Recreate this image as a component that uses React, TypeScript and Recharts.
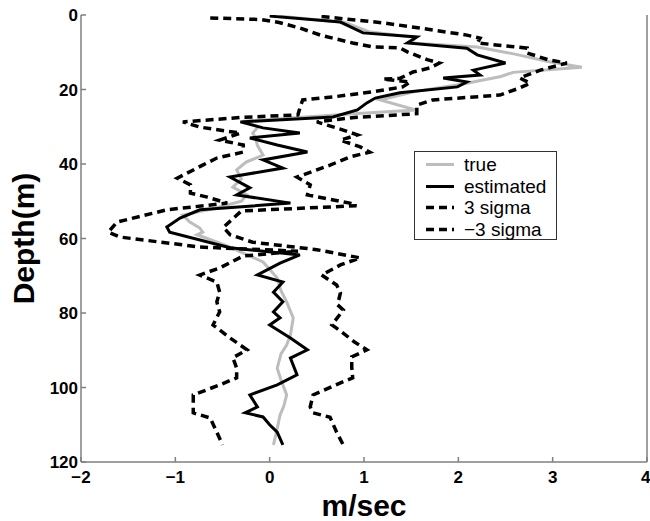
import { LineChart, Line, XAxis, YAxis, Legend, Label } from 'recharts';

const FONT = '"Liberation Sans", Arial, Helvetica, sans-serif';
const AXIS_GRAY = '#7f7f7f';

const speedTicks = [-2, -1, 0, 1, 2, 3, 4];
const depthTicks = [0, 20, 40, 60, 80, 100, 120];

// true profile
const trueDepth = [0.3, 2, 4.5, 6, 7.5, 8.6, 10.5, 12.5, 14, 15.4, 16.5, 18.5, 20.5, 22.8, 25.5, 26.6, 28.5, 30, 31.7, 33, 35, 37.6, 39.5, 41.6, 44, 46.2, 48.3, 50, 52, 53.7, 55.5, 57.2, 58.3, 59, 62, 66.3, 70.6, 74, 77, 81.3, 85.9, 88.6, 91, 94.8, 98, 102, 105, 107.4, 111, 115.4];
const trueSpeed = [0.1, 0.8, 1.05, 1.55, 1.5, 2.2, 2.6, 2.95, 3.31, 2.58, 2.45, 2.05, 1.55, 1.17, 1.55, 0.85, -0.28, -0.12, -0.18, -0.15, -0.13, -0.07, -0.25, -0.35, -0.3, -0.39, -0.24, -0.3, -0.6, -0.92, -0.85, -0.74, -0.71, -0.77, -0.45, -0.07, 0.08, 0.12, 0.18, 0.25, 0.22, 0.18, 0.12, 0.08, 0.12, 0.18, 0.15, 0.11, 0.08, 0.04];

// estimated profile
const estDepth = [0.3, 1.9, 4.8, 5.9, 7.5, 8.9, 10.7, 12.9, 14.8, 16.1, 16.9, 18, 19.3, 20.9, 22.3, 23.6, 25.5, 27.4, 28.7, 30.3, 31.7, 33, 34.9, 36.8, 38.9, 41.1, 43.5, 46.4, 48.3, 50.5, 52.3, 54.5, 56.9, 58.3, 62.5, 64.4, 66.6, 69.8, 71.7, 74.4, 77, 79.7, 81.3, 83.2, 86.7, 89.9, 92.1, 96.6, 99.3, 102, 105.2, 106.8, 107.9, 110, 112, 115.4];
const estSpeed = [0.0, 0.75, 0.99, 1.56, 1.46, 2.09, 2.2, 2.5, 2.16, 2.23, 1.84, 2.09, 1.99, 1.38, 1.12, 1.03, 0.93, 0.67, -0.31, -0.07, 0.32, -0.21, 0.08, 0.4, -0.07, 0.14, -0.42, -0.21, -0.35, 0.22, -0.74, -0.95, -1.09, -1.06, -0.42, 0.32, 0.11, -0.13, 0.14, 0.04, 0.14, 0.04, 0.11, 0.0, 0.22, 0.4, 0.22, 0.29, 0.08, -0.21, -0.13, -0.26, -0.07, 0.0, 0.08, 0.14];

// +3 sigma bound
const upperDepth = [0.4, 2.1, 3.5, 5.4, 6.2, 7.5, 8.9, 10.2, 12, 12.9, 14.8, 16.9, 18.3, 19.6, 21.5, 22.8, 24.2, 26.5, 27.5, 28.7, 30.9, 32.2, 33.6, 35.4, 36.8, 38.1, 40.3, 43.5, 45.6, 48.3, 50.5, 51.2, 52.6, 57, 59, 61, 63, 65.2, 67.1, 69.8, 72.5, 74.6, 77.8, 79.2, 83.2, 85, 87.8, 89.9, 91.8, 94.5, 97.4, 99.3, 102, 105.2, 106.8, 108, 112, 115.4];
const upperSpeed = [0.55, 1.2, 1.59, 2.09, 2.23, 2.2, 2.73, 2.73, 2.95, 3.15, 2.87, 2.65, 2.76, 2.65, 2.44, 1.73, 1.56, 1.56, 0.9, 0.5, 0.78, 0.93, 0.75, 0.96, 1.06, 0.85, 0.64, 0.29, 0.43, 0.4, 0.85, 0.92, -0.3, -0.49, -0.42, -0.18, 0.5, 0.96, 0.75, 0.55, 0.71, 0.75, 0.72, 0.78, 0.66, 0.76, 0.9, 1.03, 0.87, 0.87, 0.88, 0.7, 0.46, 0.43, 0.46, 0.64, 0.71, 0.78];

// -3 sigma bound
const lowerDepth = [0.8, 1.2, 2, 3.5, 5.5, 7.5, 8.6, 8.8, 9.9, 12, 12.9, 14.2, 15.3, 17, 17.2, 18, 19.3, 20.6, 22, 22.8, 25, 26.8, 27.5, 28.7, 30.1, 31.7, 33.6, 34.9, 36.8, 38.4, 40.3, 43.8, 45.6, 47.8, 48.9, 50.5, 52.3, 55.6, 58.3, 59.6, 62.3, 63.4, 64.7, 67.9, 69.8, 71.7, 74.4, 77, 79.7, 83.2, 86.7, 89.9, 92, 94.8, 97.4, 99.3, 102, 105.2, 106.8, 108.2, 112, 115.4];
const lowerSpeed = [-0.63, -0.1, 0.1, 0.32, 0.55, 0.88, 1.1, 1.38, 1.46, 1.67, 1.8, 1.7, 1.52, 1.38, 1.2, 1.49, 1.41, 1.1, 0.67, 0.35, 0.32, 0.3, -0.3, -0.92, -0.74, -0.31, -0.53, -0.28, -0.28, -0.56, -0.71, -0.98, -0.84, -0.84, -0.66, -0.45, -1.09, -1.62, -1.71, -1.59, -0.74, 0.3, -0.28, -0.53, -0.74, -0.56, -0.53, -0.56, -0.53, -0.6, -0.42, -0.24, -0.39, -0.35, -0.35, -0.53, -0.81, -0.81, -0.81, -0.63, -0.56, -0.5];

const toPoints = (depth: number[], speed: number[]) => depth.map((d, i) => ({ depth: d, speed: speed[i] }));

const series = [
    { name: 'true', data: toPoints(trueDepth, trueSpeed), color: '#bdbdbd', width: 3, dash: undefined },
    { name: 'estimated', data: toPoints(estDepth, estSpeed), color: '#000', width: 3, dash: undefined },
    { name: '3 sigma', data: toPoints(upperDepth, upperSpeed), color: '#000', width: 3.5, dash: '8 5' },
    { name: '\u22123 sigma', data: toPoints(lowerDepth, lowerSpeed), color: '#000', width: 3.5, dash: '8 5' },
];

const fmt = (v: number) => (v < 0 ? '\u2212' + Math.abs(v) : String(v));
const tickStyle = { fontSize: 17, fontWeight: 700, fill: '#000', fontFamily: FONT };

function LegendBox() {
    return (
        <div style={{ border: '1px solid #333', background: '#fff', width: 141, height: 85, paddingTop: 2, boxSizing: 'content-box', fontFamily: FONT, fontSize: 19, color: '#000' }}>
            {series.map(s => (
                <div key={s.name} style={{ display: 'flex', alignItems: 'center', height: 21.5 }}>
                    <svg width={49} height={21} style={{ flex: 'none' }}>
                        <line x1={11} x2={39} y1={10.5} y2={10.5} stroke={s.color} strokeWidth={s.width} strokeDasharray={s.dash ? '8 5' : undefined} />
                    </svg>
                    <span style={{ lineHeight: '21px' }}>{s.name}</span>
                </div>
            ))}
        </div>
    );
}

export default function App() {
    return (
        <div style={{ position: 'absolute', left: 0, top: 0, background: '#fff' }}>
            <LineChart layout="vertical" width={650} height={521} margin={{ top: 15, right: 0, bottom: 0, left: 0 }}>
                <XAxis
                    type="number"
                    dataKey="speed"
                    domain={[-2, 4]}
                    ticks={speedTicks}
                    tickFormatter={fmt}
                    height={59}
                    tickSize={-5}
                    tickMargin={14}
                    stroke={AXIS_GRAY}
                    strokeWidth={1.5}
                    tick={tickStyle}
                    allowDataOverflow
                >
                    <Label
                        content={() => (
                            <text x={364} y={516} textAnchor="middle" fontFamily={FONT} fontWeight={700} fontSize={30} fill="#000">m/sec</text>
                        )}
                    />
                </XAxis>
                <XAxis xAxisId="top" orientation="top" type="number" domain={[-2, 4]} ticks={speedTicks} height={0} tickSize={-5} tick={false} stroke={AXIS_GRAY} strokeWidth={1.5} allowDataOverflow />
                <YAxis
                    type="number"
                    dataKey="depth"
                    domain={[0, 120]}
                    ticks={depthTicks}
                    width={81}
                    tickSize={-5}
                    tickMargin={8}
                    stroke={AXIS_GRAY}
                    strokeWidth={1.5}
                    tick={tickStyle}
                    allowDataOverflow
                >
                    <Label
                        content={() => (
                            <text x={34} y={238.5} transform="rotate(-90 34 238.5)" textAnchor="middle" fontFamily={FONT} fontWeight={700} fontSize={30} fill="#000">Depth(m)</text>
                        )}
                    />
                </YAxis>
                <YAxis yAxisId="right" orientation="right" type="number" domain={[0, 120]} ticks={depthTicks} width={3} tickSize={-5} tick={false} stroke={AXIS_GRAY} strokeWidth={1.5} allowDataOverflow />
                {series.map(s => (
                    <Line
                        key={s.name}
                        data={s.data}
                        dataKey="speed"
                        name={s.name}
                        type="linear"
                        stroke={s.color}
                        strokeWidth={s.width}
                        strokeDasharray={s.dash}
                        dot={false}
                        activeDot={false}
                        isAnimationActive={false}
                    />
                ))}
                <Legend layout="vertical" align="center" verticalAlign="middle" wrapperStyle={{ left: 414, top: 151, width: 143 }} content={() => <LegendBox />} />
            </LineChart>
        </div>
    );
}
